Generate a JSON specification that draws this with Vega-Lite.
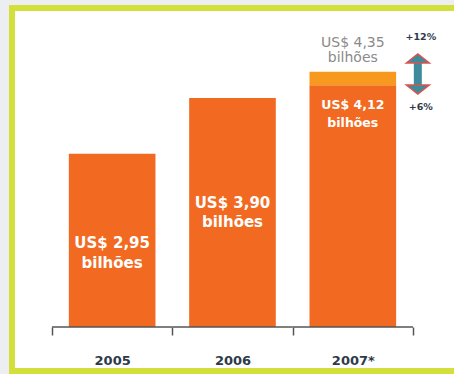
{
  "$schema": "https://vega.github.io/schema/vega-lite/v6.json",
  "width": 445,
  "height": 363,
  "autosize": "none",
  "padding": {"left": 12, "top": 8, "right": -3, "bottom": 3},
  "background": "#eceef1",
  "config": {
    "view": {"stroke": "#d3df3a", "strokeWidth": 6, "fill": "white"},
    "font": "DejaVu Sans"
  },
  "data": {
    "values": [
      {"year": "2005", "value": 2.95, "label": "US$ 2,95\nbilhões"},
      {"year": "2006", "value": 3.90, "label": "US$ 3,90\nbilhões"},
      {"year": "2007*", "value": 4.12, "label": "US$ 4,12\nbilhões", "forecast": 4.35, "forecast_label": "US$ 4,35\nbilhões", "growth_high": "+12%", "growth_low": "+6%"}
    ]
  },
  "encoding": {
    "x": {
      "field": "year", "type": "nominal", "sort": null,
      "scale": {"paddingInner": 0, "paddingOuter": 0.349, "align": 0.476},
      "axis": {
        "title": null, "domain": false, "tickBand": "extent", "labelAngle": 0,
        "tickSize": 8, "tickColor": "#555555", "tickWidth": 1.5,
        "labelFont": "DejaVu Sans", "labelFontWeight": "bold", "labelFontSize": 13,
        "labelColor": "#2e3a4a", "labelPadding": 19, "offset": -44, "grid": false
      }
    }
  },
  "layer": [
    {
      "mark": {"type": "bar", "width": {"band": 0.72}, "color": "#f26a21"},
      "encoding": {
        "y": {"field": "value", "type": "quantitative", "scale": {"domain": [-0.7496, 5.4344], "nice": false, "zero": false}, "axis": null},
        "y2": {"datum": 0}
      }
    },
    {
      "transform": [{"filter": "datum.forecast != null"}],
      "mark": {"type": "bar", "width": {"band": 0.72}, "color": "#f7981f"},
      "encoding": {
        "y": {"field": "forecast", "type": "quantitative"},
        "y2": {"field": "value"}
      }
    },
    {
      "mark": {"type": "bar", "width": {"band": 1}, "fill": null, "stroke": "#555555", "strokeWidth": 1.5},
      "encoding": {"y": {"datum": 0}, "y2": {"datum": 0}}
    },
    {
      "transform": [{"filter": "datum.year == '2005'"}],
      "mark": {"type": "text", "lineBreak": "\n", "lineHeight": 20, "fontSize": 15, "fontWeight": "bold", "color": "white", "baseline": "middle", "align": "center"},
      "encoding": {"y": {"datum": 1.4225}, "text": {"field": "label"}}
    },
    {
      "transform": [{"filter": "datum.year == '2006'"}],
      "mark": {"type": "text", "lineBreak": "\n", "lineHeight": 19, "fontSize": 15, "fontWeight": "bold", "color": "white", "baseline": "middle", "align": "center"},
      "encoding": {"y": {"datum": 2.104}, "text": {"field": "label"}}
    },
    {
      "transform": [{"filter": "datum.year == '2007*'"}],
      "mark": {"type": "text", "lineBreak": "\n", "lineHeight": 18, "fontSize": 12.5, "fontWeight": "bold", "color": "white", "baseline": "middle", "align": "center"},
      "encoding": {"y": {"datum": 3.782}, "text": {"field": "label"}}
    },
    {
      "transform": [{"filter": "datum.forecast != null"}],
      "mark": {"type": "text", "lineBreak": "\n", "lineHeight": 15, "fontSize": 14, "color": "#8a8a8a", "baseline": "middle", "align": "center"},
      "encoding": {"y": {"datum": 4.83}, "text": {"field": "forecast_label"}}
    },
    {
      "transform": [{"filter": "datum.forecast != null"}],
      "mark": {"type": "text", "fontSize": 9.5, "fontWeight": "bold", "color": "#2e3a4a", "baseline": "middle", "align": "center", "dx": 68},
      "encoding": {"y": {"datum": 4.94}, "text": {"field": "growth_high"}}
    },
    {
      "transform": [{"filter": "datum.forecast != null"}],
      "mark": {"type": "text", "fontSize": 9.5, "fontWeight": "bold", "color": "#2e3a4a", "baseline": "middle", "align": "center", "dx": 68},
      "encoding": {"y": {"datum": 3.75}, "text": {"field": "growth_low"}}
    },
    {
      "transform": [{"filter": "datum.forecast != null"}],
      "mark": {"type": "point", "filled": true, "fill": "#3e8b9b", "strokeWidth": 0, "opacity": 1, "size": 529, "shape": "M 5.304 -1.05 L 6.0 -1.05 L 6.0 1.05 L 5.304 1.05 Z"},
      "encoding": {"y": {"datum": 4.31}}
    },
    {
      "transform": [{"filter": "datum.forecast != null"}],
      "mark": {"type": "point", "filled": true, "fill": "#3e8b9b", "stroke": "#d9534f", "strokeWidth": 1.5, "opacity": 1, "size": 529, "shape": "M 4.652 -0.957 L 5.652 -1.739 L 6.652 -0.957 Z M 4.652 0.957 L 5.652 1.739 L 6.652 0.957 Z"},
      "encoding": {"y": {"datum": 4.31}}
    }
  ]
}
